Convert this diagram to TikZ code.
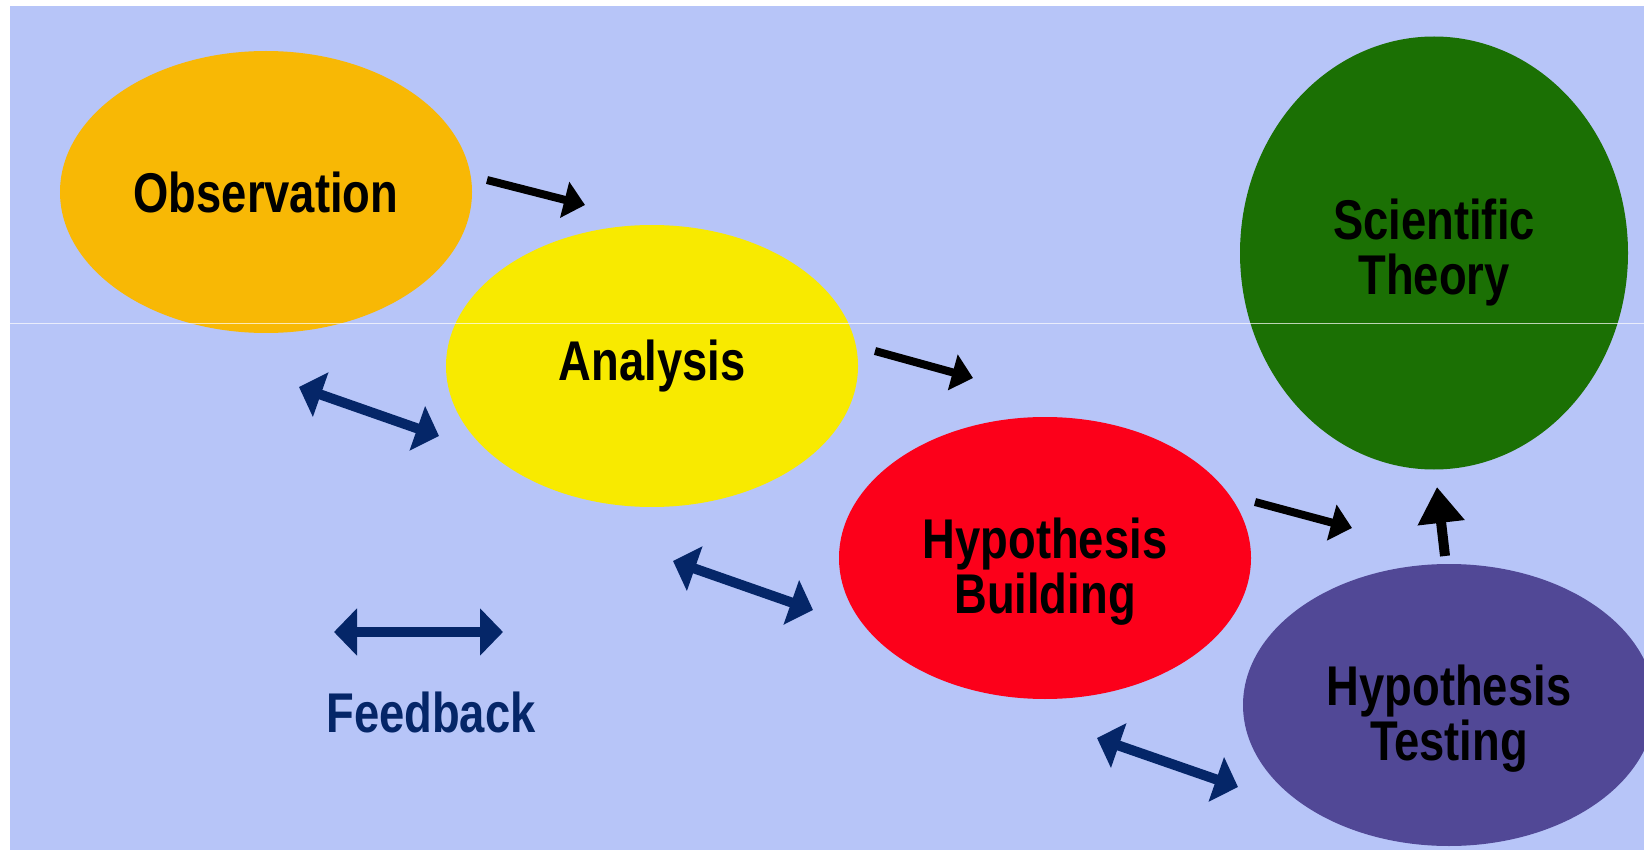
\documentclass[tikz,border=0pt]{standalone}
\usepackage{fontspec}
\setmainfont{Liberation Sans}[FakeStretch=0.81]
\usetikzlibrary{shapes.geometric,arrows.meta}

\definecolor{bgblue}{RGB}{183,197,248}
\definecolor{obsorange}{RGB}{248,184,5}
\definecolor{anayellow}{RGB}{248,234,0}
\definecolor{hypred}{RGB}{252,0,26}
\definecolor{theogreen}{RGB}{27,112,4}
\definecolor{testpurple}{RGB}{81,72,150}
\definecolor{fbnavy}{RGB}{5,38,104}

\tikzset{
  stage/.style={ellipse, inner sep=0pt, align=center, text=black,
    minimum width=412pt, minimum height=282pt,
    font=\fontsize{56pt}{55pt}\selectfont\bfseries},
  lowstage/.style={stage, text height=122pt},
  flow/.style={draw=black, line width=8pt,
    arrows={-Triangle[length=21pt,width=36pt]}},
  feedback/.style={draw=fbnavy, line width=10pt,
    arrows={Triangle[length=23pt,width=46pt]-Triangle[length=23pt,width=46pt]}}
}

\begin{document}
\begin{tikzpicture}[x=1pt,y=-1pt]

\useasboundingbox (0,0) rectangle (1644,850);
\clip (0,0) rectangle (1644,850);
\fill[bgblue] (10,6) rectangle (1644,850);

% the five stages
\node[stage, fill=obsorange] (obs) at (266,192) {Observation};
\node[stage, fill=anayellow] (ana) at (652,366) {Analysis};
\node[lowstage, fill=hypred] (build) at (1045,558) {Hypothesis\\Building};
\node[stage, fill=theogreen, minimum width=388pt, minimum height=433pt]
  (theory) at (1434,253) {Scientific\\Theory};
\node[lowstage, fill=testpurple] (test) at (1449,705) {Hypothesis\\Testing};

% forward steps
\coordinate (o2a-s) at (487,180);   \coordinate (o2a-e) at (585,205);
\coordinate (a2b-s) at (875,351);   \coordinate (a2b-e) at (973,378);
\coordinate (b2t-s) at (1255,502);  \coordinate (b2t-e) at (1352,528);
\coordinate (t2th-s) at (1445,556); \coordinate (t2th-e) at (1437,487);

\draw[flow] (o2a-s) -- (o2a-e);
\draw[flow] (a2b-s) -- (a2b-e);
\draw[flow] (b2t-s) -- (b2t-e);
\draw[flow, line width=10pt, arrows={-Triangle[length=36pt,width=45pt]}]
  (t2th-s) -- (t2th-e);

% feedback between the stages
\coordinate (fb1-s) at (299,387);  \coordinate (fb1-e) at (439,436);
\coordinate (fb2-s) at (673,561);  \coordinate (fb2-e) at (813,610);
\coordinate (fb3-s) at (1097,738); \coordinate (fb3-e) at (1238,787);
\coordinate (key-s) at (334,632);  \coordinate (key-e) at (503,632);

\foreach \a/\b in {fb1-s/fb1-e,fb2-s/fb2-e,fb3-s/fb3-e,key-s/key-e}
  \draw[feedback] (\a) -- (\b);

\node[font=\fontsize{56pt}{55pt}\selectfont\bfseries, text=fbnavy, inner sep=0pt]
  (keytext) at (431,712) {Feedback};

\draw[white, opacity=0.7, line width=1pt] (10,324) -- (1644,324);

\end{tikzpicture}
\end{document}
